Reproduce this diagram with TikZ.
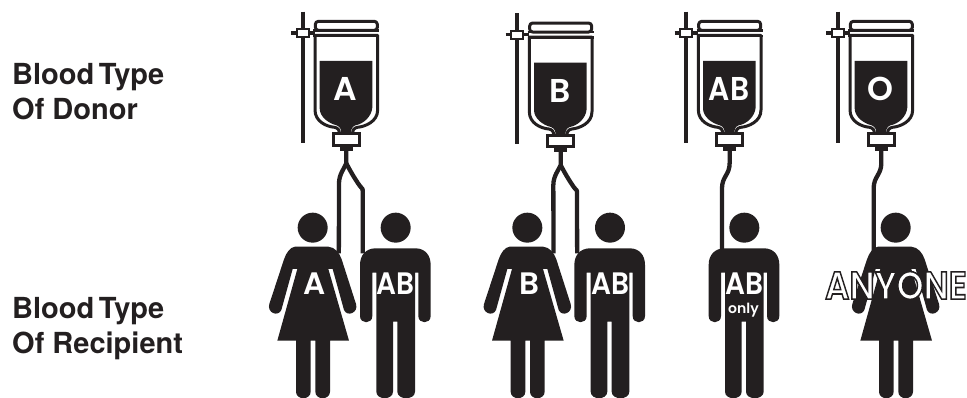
\documentclass[tikz,border=0pt]{standalone}
\usepackage{fontspec}
\setmainfont{TeX Gyre Heros}
\newfontfamily\geo{Poppins SemiBold}
\definecolor{ink}{HTML}{231F20}
\tikzset{
  wall/.style={draw=ink,line width=3pt,line join=round},
  tube/.style={draw=ink,line width=4.3pt,line join=round},
  heading/.style={inner sep=0pt,anchor=base west,text=ink,font=\fontsize{29}{29}\selectfont\bfseries},
  badge/.style={inner sep=0pt,text=white},
  narrow/.style={xscale=0.9,transform shape}
}
\newcommand{\bagdraw}[6]{%
\begin{scope}[xshift=#1pt,yshift=-#2pt,x=0.33333pt,y=-0.33333pt]
  \draw[draw=ink,line width=4pt] (68,35) -- (68,428);
  \draw[draw=ink,line width=3.6pt] (34,99) -- (104,99);
  \node[draw=ink,fill=white,line width=2pt,minimum width=12pt,minimum height=8pt,inner sep=0pt] (#3clamp) at (69,100) {};
  \draw[wall,fill=white] (105,330) -- (105,106) -- (293,106) -- (293,330) .. controls (293,365) and (255,380) .. (232,382) .. controls (222,384) and (218,390) .. (218,400) -- (178,400) .. controls (178,390) and (174,384) .. (164,382) .. controls (140,380) and (105,365) .. (105,330) -- cycle;
  \draw[wall,fill=white,rounded corners=3pt] (106,91) -- (106,64) -- (292,64) -- (292,91) -- cycle;
  \draw[draw=ink,line width=2.8pt] (100,91) -- (298,91);
  \draw[draw=ink,line width=2.8pt] (100,108) -- (298,108);
  \fill[ink] (119,183) -- (277,183) -- (277,322) .. controls (275,350) and (250,372) .. (226,376) .. controls (216,380) and (213,388) .. (213,400) -- (184,400) .. controls (184,388) and (180,380) .. (170,376) .. controls (145,370) and (119,350) .. (119,325) -- cycle;
  \node[draw=ink,fill=white,line width=3pt,minimum width=26pt,minimum height=11.5pt,inner sep=0pt] (#3conn) at (198,418) {};
  \fill[ink] (180,438) rectangle (218,452);
  \coordinate (#3out) at (199,450);
  \coordinate (#3mid) at (199,490);
  \coordinate (#3l) at (177,550);
  \coordinate (#3r) at (248,575);
  \coordinate (#3one) at (176,565);
  \node[badge,font=\geo\fontsize{33}{33}\selectfont,#6] (#3lab) at (#4,268) {#5};
\end{scope}}
\newcommand{\womandraw}[2]{%
\begin{scope}[xshift=#1pt,x=0.33333pt,y=-0.33333pt,yshift=-200pt]
  \node[circle,fill=ink,minimum size=30pt,inner sep=0pt] (#2head) at (158,83) {};
  \fill[ink] (105,140) -- (205,140) .. controls (225,142) and (238,158) .. (245,178) -- (288,312) .. controls (296,338) and (262,352) .. (252,330) -- (218,207) -- (205,207) -- (267,422) -- (210,422) -- (210,575) .. controls (210,601) and (166,601) .. (166,575) -- (166,422) -- (152,422) -- (152,575) .. controls (152,601) and (108,601) .. (108,575) -- (108,422) -- (52,422) -- (112,207) -- (98,207) -- (64,330) .. controls (54,352) and (20,338) .. (28,312) -- (72,178) .. controls (79,158) and (90,142) .. (105,140) -- cycle;
  \coordinate (#2r) at (236.5,160);
  \coordinate (#2l) at (92,160);
\end{scope}}
\newcommand{\mandraw}[2]{%
\begin{scope}[xshift=#1pt,x=0.33333pt,y=-0.33333pt,yshift=-200pt]
  \node[circle,fill=ink,minimum size=30pt,inner sep=0pt] (#2head) at (407,83) {};
  \fill[ink] (300,195) .. controls (300,165) and (318,146) .. (345,145) -- (468,145) .. controls (495,146) and (512,165) .. (512,195) -- (512,348) .. controls (512,373) and (475,373) .. (475,348) -- (475,218) -- (465,218) -- (465,575) .. controls (465,601) and (412,601) .. (412,575) -- (412,365) -- (399,365) -- (399,575) .. controls (399,601) and (349,601) .. (349,575) -- (349,218) -- (337,218) -- (337,348) .. controls (337,373) and (300,373) .. (300,348) -- cycle;
  \coordinate (#2l) at (308.5,160);
  \coordinate (#2n) at (340,160);
\end{scope}}
\newcommand{\forkdraw}[3]{%
  \draw[tube] (#1out) -- (#1mid) .. controls +(-2pt,-5pt) and +(0pt,9pt) .. (#1l) -- (#2r);
  \draw[tube] (#1mid) .. controls +(3pt,-6pt) and +(-5pt,7pt) .. ([xshift=-3pt,yshift=6pt]#1r) .. controls +(3pt,-4pt) and +(0pt,4pt) .. (#1r) -- (#3l);
}
\newcommand{\singledraw}[2]{%
  \draw[tube] (#1out) -- ([yshift=-13pt]#1out) .. controls +(0pt,-12pt) and +(0pt,12pt) .. (#1one) -- (#2);
}
\begin{document}
\begin{tikzpicture}[x=1pt,y=-1pt]
\useasboundingbox (0,0) rectangle (967,398);
\fill[white] (0,0) rectangle (967,398);
\node[heading] (h1) at (12,85) {Blood\hspace{-0.12em} Type};
\node[heading] (h2) at (12,120) {Of Donor};
\node[heading] (h3) at (12,318) {Blood\hspace{-0.12em} Type};
\node[heading] (h4) at (12,353) {Of Recipient};
\bagdraw{280}{0}{a}{197}{A}{}
\bagdraw{494.33}{1.7}{b}{197}{B}{}
\bagdraw{663.33}{0}{c}{197}{AB}{narrow}
\bagdraw{815}{0}{d}{197}{O}{}
\womandraw{260}{wa}
\mandraw{260}{ma}
\womandraw{474.67}{wb}
\mandraw{474.33}{mb}
\mandraw{608.67}{mc}
\womandraw{843}{wd}
\forkdraw{a}{wa}{ma}
\forkdraw{b}{wb}{mb}
\singledraw{c}{mcn}
\singledraw{d}{wdl}
\node[badge,font=\geo\fontsize{31}{31}\selectfont] (la) at (315,284) {A};
\node[badge,font=\geo\fontsize{31}{31}\selectfont] (lb) at (529,284) {B};
\node[badge,font=\geo\fontsize{31}{31}\selectfont,narrow] (lma) at (395,284) {AB};
\node[badge,font=\geo\fontsize{31}{31}\selectfont,narrow] (lmb) at (610,284) {AB};
\node[badge,font=\geo\fontsize{31}{31}\selectfont,narrow] (lmc) at (744,284) {AB};
\node[badge,font=\geo\fontsize{14}{14}\selectfont] (lo) at (743.5,310) {only};
\node[badge,font=\geo\fontsize{39}{39}\selectfont,xscale=0.88,transform shape] (any) at (896,285.5) {\special{pdf:code 2 Tr 1.6 w 0.137 0.122 0.125 RG}ANYONE\special{pdf:code 0 Tr}};
\end{tikzpicture}
\end{document}
